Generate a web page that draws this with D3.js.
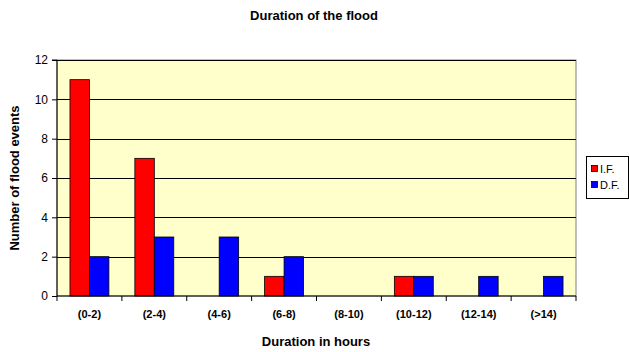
<!DOCTYPE html>
<html>
<head>
<meta charset="utf-8">
<script src="https://cdn.jsdelivr.net/npm/d3@7"></script>
<style>
  html, body { margin: 0; padding: 0; background: #fff; }
  svg { display: block; font-family: "Liberation Sans", Arial, sans-serif; }
</style>
</head>
<body>
<svg id="chart" width="629" height="352"></svg>
<script>
// Flood duration classes (hours) and event counts per flood type
const categories = ["(0-2)", "(2-4)", "(4-6)", "(6-8)", "(8-10)", "(10-12)", "(12-14)", "(>14)"];
const seriesNames = ["I.F.", "D.F."];
const ifValues = [11, 7, 0, 1, 0, 1, 0, 0];
const dfValues = [2, 3, 3, 2, 0, 1, 1, 1];
const yTicks = [0, 2, 4, 6, 8, 10, 12];
const colors = ["#FF0000", "#0000FF"];

const svg = d3.select("#chart");
const plot = { left: 57, right: 576, top: 60, bottom: 296 };

const x = d3.scaleBand().domain(categories).range([plot.left, plot.right]).paddingInner(0).paddingOuter(0);
const xInner = d3.scaleBand().domain(seriesNames).range([0, x.bandwidth()]).paddingInner(0).paddingOuter(0.667);
const y = d3.scaleLinear().domain([0, 12]).range([plot.bottom, plot.top]);

// plot background
svg.append("rect")
  .attr("x", plot.left).attr("y", plot.top)
  .attr("width", plot.right - plot.left).attr("height", plot.bottom - plot.top)
  .attr("fill", "#FFFFCC").attr("stroke", "#808080").attr("stroke-width", 1);

// horizontal gridlines
svg.append("g").selectAll("line")
  .data(yTicks.filter(d => d > 0))
  .join("line")
  .attr("x1", plot.left).attr("x2", plot.right)
  .attr("y1", d => Math.round(y(d)) + 0.5).attr("y2", d => Math.round(y(d)) + 0.5)
  .attr("stroke", "#000").attr("stroke-width", 1);

// bars
const rows = categories.map((c, i) => ({ cat: c, vals: [ifValues[i], dfValues[i]] }));
const groups = svg.append("g").selectAll("g")
  .data(rows).join("g")
  .attr("transform", d => `translate(${x(d.cat)},0)`);
groups.selectAll("rect")
  .data(d => d.vals.map((v, j) => ({ name: seriesNames[j], v, j })).filter(e => e.v > 0))
  .join("rect")
  .attr("x", e => xInner(e.name))
  .attr("width", xInner.bandwidth())
  .attr("y", e => y(e.v))
  .attr("height", e => y(0) - y(e.v))
  .attr("fill", e => colors[e.j])
  .attr("stroke", "#000").attr("stroke-width", 0.8);

// y axis
const yAxis = svg.append("g")
  .attr("transform", `translate(${plot.left},0)`)
  .call(d3.axisLeft(y).tickValues(yTicks).tickSize(5).tickPadding(4).tickFormat(d3.format("d")));
yAxis.selectAll("text").attr("font-size", 12).attr("fill", "#000").attr("font-family", "Liberation Sans, Arial, sans-serif");
yAxis.selectAll("line, path").attr("stroke", "#000");
yAxis.select(".domain").attr("d", `M-5,${y(12)}H0V${y(0)}`);

// x axis
const xAxis = svg.append("g")
  .attr("transform", `translate(0,${plot.bottom})`)
  .call(d3.axisBottom(x).tickSize(0).tickPadding(14));
xAxis.selectAll("text").attr("font-size", 11).attr("font-weight", "bold").attr("fill", "#000")
  .attr("font-family", "Liberation Sans, Arial, sans-serif");
xAxis.select(".domain").attr("stroke", "#000").attr("d", `M${plot.left},0H${plot.right}`);
// category separator ticks
xAxis.append("g").selectAll("line")
  .data(d3.range(categories.length + 1))
  .join("line")
  .attr("x1", i => plot.left + i * x.step()).attr("x2", i => plot.left + i * x.step())
  .attr("y1", 0).attr("y2", 5).attr("stroke", "#000");

// titles
svg.append("text").attr("x", 314).attr("y", 20).attr("text-anchor", "middle")
  .attr("font-size", 13).attr("font-weight", "bold").text("Duration of the flood");
svg.append("text").attr("x", 316).attr("y", 346).attr("text-anchor", "middle")
  .attr("font-size", 13).attr("font-weight", "bold").text("Duration in hours");
svg.append("text").attr("transform", `translate(19,${(plot.top + plot.bottom) / 2}) rotate(-90)`)
  .attr("text-anchor", "middle").attr("font-size", 13).attr("font-weight", "bold").text("Number of flood events");

// legend
const legend = svg.append("g").attr("transform", "translate(586,156)");
legend.append("rect").attr("x", 0.5).attr("y", 0.5).attr("width", 42).attr("height", 42)
  .attr("fill", "#fff").attr("stroke", "#000");
seriesNames.forEach((name, j) => {
  const row = legend.append("g").attr("transform", `translate(5,${9 + j * 16})`);
  row.append("rect").attr("x", 0.5).attr("y", 0.5).attr("width", 6).attr("height", 6)
    .attr("fill", colors[j]).attr("stroke", "#000").attr("stroke-width", 0.8);
  row.append("text").attr("x", 9).attr("y", 8).attr("font-size", 11).attr("fill", "#000").text(name);
});
</script>
</body>
</html>
